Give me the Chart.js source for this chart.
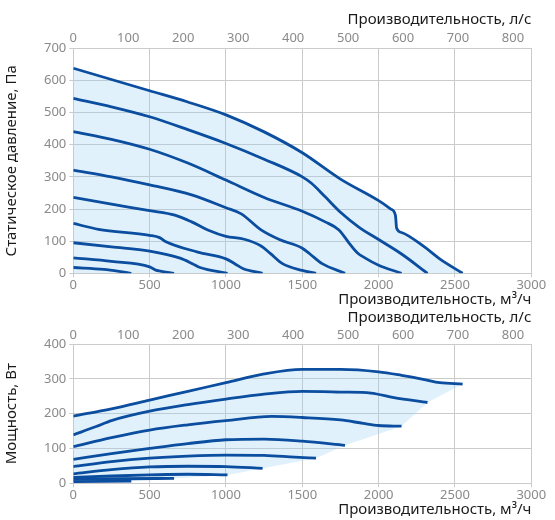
<!DOCTYPE html>
<html><head><meta charset="utf-8">
<script src="https://cdn.jsdelivr.net/npm/chart.js@4/dist/chart.umd.min.js"></script>
<style>
html,body{margin:0;padding:0;background:#fff;width:555px;height:520px;overflow:hidden}
canvas{position:absolute;left:0}
#c1{top:0}
#c2{top:300px}
</style></head><body>
<canvas id="c1" width="555" height="312" style="width:555px;height:312px"></canvas>
<canvas id="c2" width="555" height="220" style="width:555px;height:220px"></canvas>
<script>
// ---- data (flow m3/h, value) ----
const pressure1 = [[0,638],[250,603],[500,568],[750,533],[1000,493],[1250,440],[1500,375],[1750,293],[2000,226],[2080,200],[2110,180],[2118,140],[2150,127],[2300,82],[2400,45],[2550,0]];
const pressure2 = [[0,544],[250,518],[500,487],[750,447],[1000,404],[1250,355],[1500,300],[1560,280],[1650,238],[1750,190],[1870,144],[2000,105],[2150,60],[2320,0]];
const pressure3 = [[0,441],[250,417],[500,386],[750,343],[1000,290],[1250,236],[1500,193],[1650,160],[1740,135],[1805,95],[1860,64],[1910,48],[2000,25],[2150,0]];
const pressure4 = [[0,321],[250,300],[500,275],[775,244],[1000,204],[1100,185],[1230,135],[1350,105],[1500,78],[1550,60],[1630,30],[1780,0]];
const pressure5 = [[0,236],[250,215],[500,195],[665,181],[775,160],[885,134],[1000,115],[1120,106],[1230,85],[1290,62],[1370,30],[1500,9],[1590,0]];
const pressure6 = [[0,155],[165,137],[500,118],[565,111],[600,100],[815,66],[1000,45],[1060,29],[1110,15],[1240,0]];
const pressure7 = [[0,95],[250,82],[500,69],[700,47],[780,30],[830,18],[1010,0]];
const pressure8 = [[0,48],[250,37],[500,20],[540,10],[570,7],[660,0]];
const pressure9 = [[0,18],[200,12],[300,6],[380,0]];

const power1 = [[0,193],[250,214],[500,239],[750,264],[1000,289],[1250,314],[1500,327],[1750,327],[2000,320],[2150,310],[2300,298],[2400,289],[2550,285]];
const power2 = [[0,139],[150,163],[250,180],[500,207],[750,226],[1000,242],[1250,256],[1500,264],[1750,262],[1950,259],[2100,246],[2320,232]];
const power3 = [[0,105],[250,131],[500,153],[750,168],[1000,180],[1300,192],[1500,189],[1750,182],[1900,172],[2000,166],[2150,164]];
const power4 = [[0,69],[250,85],[500,100],[750,114],[1000,125],[1250,127],[1500,121],[1780,109]];
const power5 = [[0,48],[250,62],[500,72],[750,78],[1000,81],[1250,80],[1450,75],[1590,72]];
const power6 = [[0,27],[250,39],[500,47],[750,49],[1000,48],[1240,43]];
const power7 = [[0,17],[250,21],[500,24],[750,26],[1010,24]];
const power8 = [[0,11],[300,13],[660,14]];
const power9 = [[0,5],[380,6]];

const flowTicksM3h = [0,500,1000,1500,2000,2500,3000];
const flowTicksLs = [0,100,200,300,400,500,600,700,800];
const pressureTicks = [0,100,200,300,400,500,600,700];
const powerTicks = [0,100,200,300,400];

const pressureCurves = [pressure1,pressure2,pressure3,pressure4,pressure5,pressure6,pressure7,pressure8,pressure9];
const powerCurves = [power1,power2,power3,power4,power5,power6,power7,power8,power9];

// ---- styles ----
const FAMILY = "'Noto Sans', 'Open Sans', sans-serif";
const LINE = '#0b4d9e';
const FILL = 'rgba(152,208,245,0.30)';
const GRID = '#cbcbcb';
const TICK = '#8a8a8a';
const TITLE = '#1a1a1a';

const xy = a => a.map(([x,y]) => ({x, y}));
const plain = v => String(Math.round(v));

function lineDs(a, extra) {
  return Object.assign({
    data: xy(a), borderColor: LINE, borderWidth: 2.8, pointRadius: 0,
    cubicInterpolationMode: 'monotone', fill: false, borderCapStyle: 'butt'
  }, extra || {});
}

function build(canvas, datasets, yTicks, yTitle, geom) {
  const yMax = yTicks[yTicks.length - 1];
  return new Chart(canvas, {
    type: 'line',
    data: { datasets },
    options: {
      responsive: false, animation: false,
      layout: { padding: { left: 0, right: geom.right, top: 0, bottom: 0 } },
      plugins: { legend: { display: false }, tooltip: { enabled: false },
        filler: { propagate: false, drawTime: 'beforeDatasetsDraw' } },
      scales: {
        x: {
          type: 'linear', position: 'bottom', min: flowTicksM3h[0], max: flowTicksM3h[flowTicksM3h.length-1],
          afterBuildTicks: s => { s.ticks = flowTicksM3h.map(v => ({value: v})); },
          ticks: { color: TICK, font: { family: FAMILY, size: 13 }, padding: 0, maxRotation: 0, autoSkip: false, callback: plain },
          grid: { color: GRID, tickLength: 4, drawTicks: true },
          border: { color: GRID },
          title: { display: true, text: 'Производительность, м³/ч', align: 'end', color: TITLE,
                   font: { family: FAMILY, size: 15 }, padding: { top: 0, bottom: geom.bTitlePad } },
          afterFit: s => { s.height = geom.bottomH; }
        },
        x2: {
          type: 'linear', position: 'top', min: 0, max: flowTicksM3h[flowTicksM3h.length-1] / 3.6,
          afterBuildTicks: s => { s.ticks = flowTicksLs.map(v => ({value: v})); },
          ticks: { color: TICK, font: { family: FAMILY, size: 13 }, padding: geom.tTickPad, maxRotation: 0, autoSkip: false, callback: plain },
          grid: { display: false, drawTicks: false },
          border: { color: GRID },
          title: { display: true, text: 'Производительность, л/с', align: 'end', color: TITLE,
                   font: { family: FAMILY, size: 15 }, padding: { top: geom.tTitlePad, bottom: 0 } },
          afterFit: s => { s.height = geom.topH; }
        },
        y: {
          type: 'linear', position: 'left', min: 0, max: yMax,
          afterBuildTicks: s => { s.ticks = yTicks.map(v => ({value: v})); },
          ticks: { color: TICK, font: { family: FAMILY, size: 13 }, padding: 3, callback: plain },
          grid: { color: GRID, tickLength: 4 },
          border: { color: GRID },
          title: { display: true, text: yTitle, color: TITLE, font: { family: FAMILY, size: 15 },
                   padding: { top: 3, bottom: 0 } },
          afterFit: s => { s.width = 73.3; }
        }
      }
    }
  });
}

// Top chart: envelope fill under the outermost curve
const topSets = pressureCurves.map((c, i) => lineDs(c, i === 0 ? { fill: 'origin', backgroundColor: FILL } : {}));
build(document.getElementById('c1'), topSets, pressureTicks, 'Статическое давление, Па',
  { right: 23.7, bottomH: 38.7, topH: 48.3, bTitlePad: 3, tTickPad: 2, tTitlePad: 11 });

// Bottom chart: fill between outermost curve and the line through curve end points
const ends = [[0,0]].concat(powerCurves.slice().reverse().map(c => c[c.length-1]));
const botSets = powerCurves.map((c, i) => lineDs(c, i === 0 ? { fill: powerCurves.length, backgroundColor: FILL } : {}));
botSets.push({ data: xy(ends), borderWidth: 0, borderColor: 'rgba(0,0,0,0)', pointRadius: 0, tension: 0, fill: false });
build(document.getElementById('c2'), botSets, powerTicks, 'Мощность, Вт',
  { right: 23.7, bottomH: 36.7, topH: 44, bTitlePad: 1, tTickPad: 1, tTitlePad: 9 });
</script>
</body></html>
